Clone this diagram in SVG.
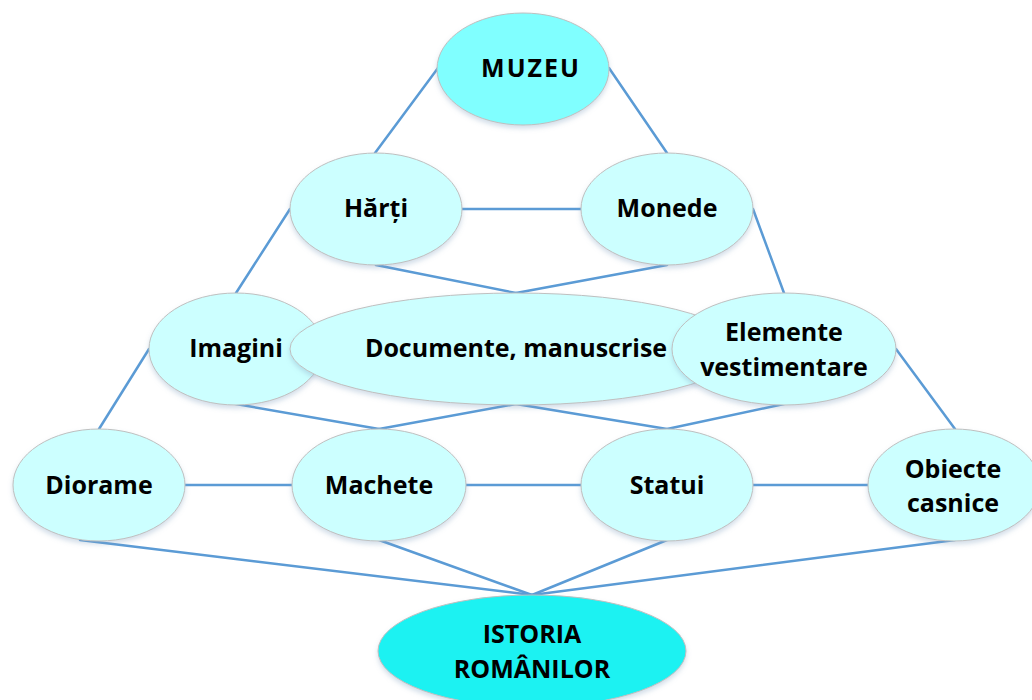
<svg xmlns="http://www.w3.org/2000/svg" width="1032" height="700" viewBox="0 0 1032 700">
<defs>
<filter id="sh" x="-10%" y="-10%" width="120%" height="130%">
<feGaussianBlur in="SourceAlpha" stdDeviation="2.5"/>
<feOffset dx="0" dy="3" result="b"/>
<feFlood flood-color="#7f9fbf" flood-opacity="0.35"/>
<feComposite in2="b" operator="in"/>
<feMerge><feMergeNode/><feMergeNode in="SourceGraphic"/></feMerge>
</filter>
</defs>
<style>
.n{fill:#CCFFFF;stroke:#BFBFBF;stroke-width:1;filter:url(#sh)}
.m{fill:#80FFFF;stroke:#BFBFBF;stroke-width:1;filter:url(#sh)}
.r{fill:#1CF2F2;stroke:#BFBFBF;stroke-width:1;filter:url(#sh)}
.c line{stroke:#5B9BD5;stroke-width:2.5;stroke-linecap:round}
text{font-family:"Open Sans","Lato","Liberation Sans",sans-serif;font-weight:bold;font-size:25px;fill:#000;text-anchor:middle}
</style>
<rect width="1032" height="700" fill="#fff"/>
<g class="c" id="connectors">
<line x1="438" y1="68" x2="375" y2="153"/>
<line x1="609" y1="68" x2="667" y2="153"/>
<line x1="462" y1="209" x2="581" y2="209"/>
<line x1="376" y1="265" x2="516" y2="293"/>
<line x1="667" y1="265" x2="516" y2="293"/>
<line x1="290" y1="209" x2="236" y2="293"/>
<line x1="753" y1="209" x2="784" y2="293"/>
<line x1="149" y1="349" x2="99" y2="429"/>
<line x1="896" y1="349" x2="955" y2="429"/>
<line x1="236" y1="404" x2="379" y2="429"/>
<line x1="516" y1="404" x2="379" y2="429"/>
<line x1="516" y1="404" x2="667" y2="429"/>
<line x1="784" y1="404" x2="667" y2="429"/>
<line x1="185" y1="485" x2="292" y2="485"/>
<line x1="466" y1="485" x2="581" y2="485"/>
<line x1="753" y1="485" x2="868" y2="485"/>
<line x1="80" y1="540" x2="532" y2="595"/>
<line x1="379" y1="540" x2="532" y2="595"/>
<line x1="667" y1="540" x2="532" y2="595"/>
<line x1="955" y1="540" x2="532" y2="595"/>
</g>
<g id="muzeu"><ellipse class="m" cx="523" cy="69" rx="86" ry="56"/><text x="531" y="77" letter-spacing="2">MUZEU</text></g>
<g id="harti"><ellipse class="n" cx="376" cy="209" rx="86" ry="56"/><text x="376" y="217">Hărți</text></g>
<g id="monede"><ellipse class="n" cx="667" cy="209" rx="86" ry="56"/><text x="667" y="217">Monede</text></g>
<g id="imagini"><ellipse class="n" cx="236" cy="349" rx="87" ry="56"/><text x="236" y="357">Imagini</text></g>
<g id="documente"><ellipse class="n" cx="516" cy="349" rx="226" ry="56"/><text x="516" y="357">Documente, manuscrise</text></g>
<g id="elemente"><ellipse class="n" cx="784" cy="349" rx="112" ry="56"/><text x="784" y="341">Elemente</text><text x="784" y="376">vestimentare</text></g>
<g id="diorame"><ellipse class="n" cx="99" cy="485" rx="86" ry="56"/><text x="99" y="494">Diorame</text></g>
<g id="machete"><ellipse class="n" cx="379" cy="485" rx="87" ry="56"/><text x="379" y="494">Machete</text></g>
<g id="statui"><ellipse class="n" cx="667" cy="485" rx="86" ry="56"/><text x="667" y="494">Statui</text></g>
<g id="obiecte"><ellipse class="n" cx="954" cy="485" rx="86" ry="56"/><text x="953" y="478">Obiecte</text><text x="953" y="512">casnice</text></g>
<g id="istoria"><ellipse class="r" cx="532" cy="651" rx="154" ry="56"/><text x="532" y="643">ISTORIA</text><text x="532" y="678">ROMÂNILOR</text></g>
</svg>
